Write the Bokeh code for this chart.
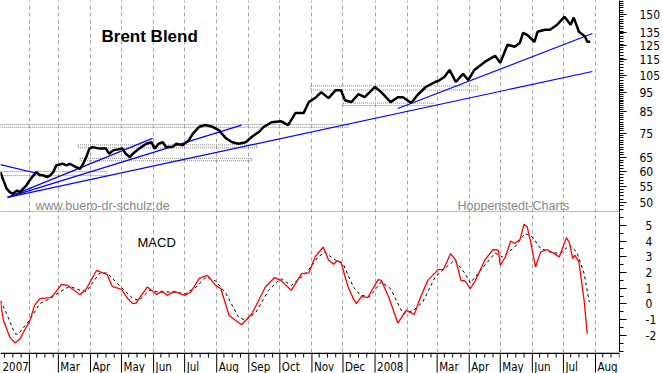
import pandas as pd
from bokeh.plotting import figure
from bokeh.models import Range1d, FixedTicker, PrintfTickFormatter, Label, ColumnDataSource
from bokeh.core.properties import value
from bokeh.layouts import column
from bokeh.embed import file_html
from bokeh.resources import INLINE

# ---------------- data ----------------
price_dates = [
    "2007-01-04", "2007-01-07", "2007-01-10", "2007-01-13", "2007-01-16", "2007-01-20", "2007-01-23", "2007-01-26", "2007-01-29",
    "2007-02-01", "2007-02-05", "2007-02-08", "2007-02-11", "2007-02-14", "2007-02-18", "2007-02-21", "2007-02-24", "2007-02-27",
    "2007-03-05", "2007-03-09", "2007-03-12", "2007-03-18", "2007-03-22", "2007-03-25", "2007-03-28", "2007-03-31",
    "2007-04-03", "2007-04-10", "2007-04-16", "2007-04-19", "2007-04-23",
    "2007-05-02", "2007-05-05", "2007-05-09", "2007-05-12", "2007-05-18", "2007-05-25", "2007-05-30",
    "2007-06-02", "2007-06-06", "2007-06-10", "2007-06-13", "2007-06-19", "2007-06-23", "2007-06-29",
    "2007-07-05", "2007-07-09", "2007-07-15", "2007-07-21", "2007-07-28",
    "2007-08-03", "2007-08-10", "2007-08-16", "2007-08-22", "2007-08-29",
    "2007-09-04", "2007-09-11", "2007-09-15", "2007-09-23",
    "2007-10-02", "2007-10-09", "2007-10-16", "2007-10-24", "2007-10-29",
    "2007-11-05", "2007-11-10", "2007-11-17", "2007-11-24", "2007-11-29",
    "2007-12-03", "2007-12-09", "2007-12-16", "2007-12-22",
    "2008-01-01", "2008-01-07", "2008-01-16", "2008-01-23", "2008-01-28",
    "2008-02-05", "2008-02-11", "2008-02-19", "2008-02-28",
    "2008-03-02", "2008-03-08", "2008-03-13", "2008-03-19", "2008-03-26", "2008-03-31",
    "2008-04-06", "2008-04-16", "2008-04-26",
    "2008-05-01", "2008-05-08", "2008-05-15", "2008-05-20", "2008-05-23", "2008-05-27",
    "2008-06-03", "2008-06-06", "2008-06-13", "2008-06-18", "2008-06-25",
    "2008-07-02", "2008-07-08", "2008-07-11", "2008-07-16", "2008-07-22", "2008-07-24", "2008-07-27",
]
price_values = [
    59.7, 56.8, 54.2, 53.1, 52.6, 53.6, 53.1, 54.2, 55.2,
    56.8, 58.6, 59.7, 58.6, 58.6, 58.0, 58.6, 59.7, 62.1,
    62.7, 62.1, 62.7, 61.5, 60.9, 62.7, 65.2, 68.5,
    69.1, 68.5, 68.5, 66.5, 67.8,
    68.5, 66.5, 65.2, 66.5, 68.5, 70.5, 71.1,
    68.5, 70.5, 71.1, 69.1, 69.1, 70.5, 69.8,
    71.9, 74.8, 77.8, 78.6, 77.8,
    76.3, 72.7, 71.1, 70.5, 71.1,
    73.4, 75.6, 77.6, 79.9,
    80.4, 78.6, 84.3, 84.3, 89.9,
    92.5, 95.3, 92.0, 96.4, 96.4,
    90.9, 89.9, 94.2, 92.5,
    98.2, 95.3, 89.9, 92.5, 92.5,
    89.4, 93.7, 98.2, 101.1,
    101.7, 104.1, 108.5, 101.1, 106.0, 102.3,
    108.5, 113.7, 117.8,
    113.1, 125.7, 124.2, 127.2, 134.8, 133.2,
    127.9, 135.6, 137.2, 137.2, 141.3,
    148.1, 141.3, 147.3, 135.6, 131.8, 127.9, 127.9,
]

macd_dates = [
    "2007-01-04", "2007-01-07", "2007-01-13", "2007-01-18", "2007-01-23", "2007-01-28",
    "2007-02-01", "2007-02-06", "2007-02-11", "2007-02-21", "2007-02-24",
    "2007-03-04", "2007-03-10", "2007-03-22", "2007-03-28",
    "2007-04-07", "2007-04-12", "2007-04-17", "2007-04-22",
    "2007-05-01", "2007-05-07", "2007-05-12", "2007-05-15", "2007-05-26",
    "2007-06-04", "2007-06-09", "2007-06-14", "2007-06-21",
    "2007-07-01", "2007-07-07", "2007-07-15", "2007-07-23", "2007-07-31",
    "2007-08-05", "2007-08-13", "2007-08-25",
    "2007-09-04", "2007-09-17", "2007-09-26",
    "2007-10-02", "2007-10-12", "2007-10-22", "2007-10-29",
    "2007-11-04", "2007-11-12", "2007-11-17", "2007-11-22", "2007-11-25", "2007-11-29",
    "2007-12-06", "2007-12-11", "2007-12-14", "2007-12-19", "2007-12-25", "2007-12-28",
    "2008-01-04", "2008-01-07", "2008-01-14", "2008-01-23", "2008-01-31",
    "2008-02-08", "2008-02-14", "2008-02-21",
    "2008-03-02", "2008-03-07", "2008-03-14", "2008-03-19", "2008-03-24", "2008-03-28",
    "2008-04-02", "2008-04-07", "2008-04-16", "2008-04-24", "2008-04-29",
    "2008-05-01", "2008-05-06", "2008-05-11", "2008-05-15", "2008-05-20", "2008-05-24", "2008-05-27", "2008-05-30",
    "2008-06-04", "2008-06-09", "2008-06-15", "2008-06-22", "2008-06-27",
    "2008-07-04", "2008-07-07", "2008-07-10", "2008-07-12", "2008-07-16", "2008-07-21", "2008-07-24",
]
macd_values = [
    0.12, -1.05, -2.10, -2.47, -2.20, -1.57,
    -1.15, -0.09, 0.34, 0.40, 0.55,
    1.25, 1.18, 0.59, 0.97,
    2.14, 1.99, 1.88, 1.12,
    0.93, 0.34, 0.02, 0.06, 1.08,
    0.61, 0.82, 0.55, 0.80,
    0.55, 0.76, 1.61, 1.82, 1.18,
    0.97, -0.73, -1.32,
    -0.62, 1.08, 1.68,
    1.50, 0.87, 1.93, 1.97,
    2.99, 3.62, 2.80, 2.52, 2.73, 2.67,
    1.08, 0.34, 0.02, 0.48, 0.40, 0.76,
    1.55, 1.50, 0.48, -1.21, -0.41,
    -0.66, 0.44, 1.50,
    2.18, 2.18, 3.20, 2.78, 1.50, 1.46,
    0.97, 1.50, 2.78, 3.46, 3.42,
    2.46, 2.99, 4.00, 3.84, 4.09, 5.07, 4.90, 4.05,
    2.35, 3.30, 3.46, 3.20, 2.99,
    4.22, 3.84, 2.88, 3.10, 2.67, 0.23, -1.89,
]

signal_dates = [
    "2007-01-04", "2007-01-10", "2007-01-18", "2007-01-21",
    "2007-02-01", "2007-02-11", "2007-02-21",
    "2007-03-02", "2007-03-12", "2007-03-22", "2007-03-28",
    "2007-04-10", "2007-04-17", "2007-04-29",
    "2007-05-12", "2007-05-18", "2007-05-28",
    "2007-06-06", "2007-06-19",
    "2007-07-02", "2007-07-12", "2007-07-22", "2007-07-31",
    "2007-08-10", "2007-08-22", "2007-08-29",
    "2007-09-08", "2007-09-20",
    "2007-10-02", "2007-10-12", "2007-10-26",
    "2007-11-07", "2007-11-14", "2007-11-17", "2007-11-24",
    "2007-12-01", "2007-12-11", "2007-12-18", "2007-12-27",
    "2008-01-07", "2008-01-16", "2008-01-28",
    "2008-02-07", "2008-02-16", "2008-02-28",
    "2008-03-10", "2008-03-18", "2008-03-28",
    "2008-04-02", "2008-04-12", "2008-04-26",
    "2008-05-03", "2008-05-15", "2008-05-25",
    "2008-06-01", "2008-06-09", "2008-06-18", "2008-06-28",
    "2008-07-07", "2008-07-14", "2008-07-21", "2008-07-26",
]
signal_values = [
    0.23, -0.62, -1.89, -1.93,
    -1.04, 0.02, 0.34,
    0.76, 1.12, 0.87, 0.80,
    1.97, 1.97, 1.18,
    0.34, 0.23, 0.87,
    0.76, 0.76,
    0.65, 1.08, 1.71, 1.46,
    0.65, -0.83, -1.04,
    -0.52, 0.87,
    1.61, 1.18, 1.93,
    2.99, 3.30, 3.10, 2.78,
    2.57, 1.08, 0.55, 0.48,
    1.40, 0.97, -0.62,
    -0.41, 0.12, 1.71,
    2.35, 2.78, 1.93,
    1.33, 2.14, 3.24,
    2.99, 3.62, 4.48,
    4.26, 3.52, 3.30, 3.20,
    3.73, 3.30, 1.93, 0.12,
]

# trend lines drawn on the price chart
trend_start_dates = ["2007-01-04", "2007-01-11", "2007-01-11", "2007-01-11", "2008-01-23"]
trend_start_prices = [62.4, 51.5, 51.5, 51.5, 86.6]
trend_end_dates = ["2007-02-21", "2007-05-31", "2007-08-25", "2008-07-29", "2008-07-29"]
trend_end_prices = [58.2, 72.7, 78.6, 107.5, 134.2]

# support / resistance bands
box_start = ["2007-01-04", "2007-03-20", "2007-03-22", "2007-01-04", "2007-10-31", "2007-12-01"]
box_end = ["2007-12-06", "2007-09-09", "2007-09-04", "2007-04-17", "2008-04-09", "2008-02-26"]
box_low = [77.6, 68.8, 63.8, 58.5, 96.5, 88.1]
box_high = [78.9, 70.0, 64.7, 59.9, 98.8, 89.4]

month_dates = [
    "2007-01-01", "2007-02-01", "2007-03-01", "2007-04-01", "2007-05-01", "2007-06-01",
    "2007-07-01", "2007-08-01", "2007-09-01", "2007-10-01", "2007-11-01", "2007-12-01",
    "2008-01-01", "2008-02-01", "2008-03-01", "2008-04-01", "2008-05-01", "2008-06-01",
    "2008-07-01", "2008-08-01",
]
month_labels = ["2007", "", "Mar", "Apr", "May", "Jun", "Jul", "Aug", "Sep", "Oct", "Nov", "Dec",
                "2008", "", "Mar", "Apr", "May", "Jun", "Jul", "Aug"]

price_ticks = [50, 55, 60, 65, 75, 85, 95, 105, 115, 125, 135, 150]
macd_ticks = [-2, -1, 0, 1, 2, 3, 4, 5]

# ---------------- helpers ----------------
ORIGIN = pd.Timestamp("2007-01-01")


def to_days(dates):
    return [(pd.Timestamp(d) - ORIGIN).days for d in dates]


month_days = to_days(month_dates)
week_days = [(pd.Timestamp(m) + pd.Timedelta(days=k) - ORIGIN).days
             for m in month_dates for k in (7, 15, 23)]

AXIS_FONT = "Liberation Sans Narrow, DejaVu Sans Condensed, Liberation Sans, sans-serif"
TEXT_FONT = "Liberation Sans, Arial, sans-serif"
GRID_COLOR = "#a8a8a8"

x_range = Range1d(3.08, 601.2)


def style_right_axis(ax, standoff):
    ax.major_tick_out = 7
    ax.minor_tick_out = 4
    ax.major_tick_in = 0
    ax.minor_tick_in = 0
    ax.major_label_standoff = standoff
    ax.major_label_text_font = AXIS_FONT
    ax.major_label_text_font_size = "12px"
    ax.major_label_text_color = "black"
    ax.axis_line_color = "black"


def style_frame(p):
    p.outline_line_color = None
    p.background_fill_color = "white"
    p.border_fill_color = "white"


# ---------------- price panel ----------------
p1 = figure(width=663, height=212, y_axis_type="log", y_axis_location="right",
            x_range=x_range, y_range=Range1d(47.15, 162.8),
            output_backend="svg", toolbar_location=None,
            min_border_left=0, min_border_right=41, min_border_top=0, min_border_bottom=0)
style_frame(p1)

p1.xaxis.ticker = FixedTicker(ticks=[])
p1.xaxis.major_tick_out = 0
p1.xaxis.minor_tick_out = 0
p1.xaxis.major_tick_in = 0
p1.xaxis.minor_tick_in = 0
p1.xaxis.major_label_standoff = 0
p1.xaxis.axis_line_width = 1.5
p1.xaxis.axis_line_color = "black"

p1.xgrid.ticker = FixedTicker(ticks=month_days)
p1.xgrid.grid_line_color = GRID_COLOR
p1.xgrid.grid_line_dash = "4 3"
p1.ygrid.visible = False

p1.yaxis.ticker = FixedTicker(ticks=price_ticks,
                              minor_ticks=list(range(47, 100)) + list(range(100, 163, 2)))
p1.yaxis.formatter = PrintfTickFormatter(format="%d")
style_right_axis(p1.yaxis[0], 13)

p1.quad(left=to_days(box_start), right=to_days(box_end), bottom=box_low, top=box_high,
        fill_color=None, line_color="#808080", line_width=1, line_dash="1 1")
p1.segment(x0=to_days(trend_start_dates), y0=trend_start_prices,
           x1=to_days(trend_end_dates), y1=trend_end_prices,
           line_color="#0000ff", line_width=1.2)
p1.line(to_days(price_dates), price_values, line_color="black", line_width=2.5)

p1.add_layout(Label(x=101, y=176, x_units="screen", y_units="screen", text="Brent Blend",
                    text_font=TEXT_FONT, text_font_size="17px", text_font_style="bold",
                    text_color="black", text_align="left", text_baseline="alphabetic"))
p1.add_layout(Label(x=35, y=7, x_units="screen", y_units="screen", text="www.buero-dr-schulz.de",
                    text_font=TEXT_FONT, text_font_size="12.5px", text_color="#888888",
                    text_align="left", text_baseline="alphabetic"))
p1.add_layout(Label(x=457, y=7, x_units="screen", y_units="screen", text="Hoppenstedt-Charts",
                    text_font=TEXT_FONT, text_font_size="12.5px", text_color="#888888",
                    text_align="left", text_baseline="alphabetic"))

# ---------------- MACD panel ----------------
p2 = figure(width=663, height=140, y_axis_location="right", x_axis_location=None,
            x_range=x_range, y_range=Range1d(-3.08, 5.81),
            output_backend="svg", toolbar_location=None,
            min_border_left=0, min_border_right=41, min_border_top=0, min_border_bottom=0)
style_frame(p2)

p2.xgrid.ticker = FixedTicker(ticks=month_days)
p2.xgrid.grid_line_color = GRID_COLOR
p2.xgrid.grid_line_dash = "4 3"
p2.ygrid.visible = False

p2.yaxis.ticker = FixedTicker(ticks=macd_ticks, minor_ticks=[i / 2 for i in range(-6, 12)])
p2.yaxis.formatter = PrintfTickFormatter(format="%d")
style_right_axis(p2.yaxis[0], 19)

p2.line(to_days(signal_dates), signal_values, line_color="black", line_width=1, line_dash="3 3")
p2.line(to_days(macd_dates), macd_values, line_color="#ff0000", line_width=1.3)

p2.add_layout(Label(x=137, y=110, x_units="screen", y_units="screen", text="MACD",
                    text_font=TEXT_FONT, text_font_size="13px", text_color="black",
                    text_align="left", text_baseline="alphabetic"))

# ---------------- time axis strip (a 21 px band; y measured in pixels from its bottom) ----------------
STRIP_H = 21
p3 = figure(width=663, height=STRIP_H, x_axis_location=None, y_axis_location=None,
            x_range=x_range, y_range=Range1d(0, STRIP_H),
            output_backend="svg", toolbar_location=None,
            min_border_left=0, min_border_right=41, min_border_top=0, min_border_bottom=0)
style_frame(p3)
p3.grid.visible = False

# axis rule along the top of the strip
p3.segment(x0=[x_range.start], x1=[x_range.end], y0=[STRIP_H - 0.75], y1=[STRIP_H - 0.75],
           line_color="black", line_width=1.5)
# long month ticks and short weekly ticks hanging from the rule
p3.segment(x0=month_days, x1=month_days, y0=[STRIP_H] * len(month_days), y1=[1] * len(month_days),
           line_color="black", line_width=1)
p3.segment(x0=week_days, x1=week_days, y0=[STRIP_H] * len(week_days), y1=[STRIP_H - 5] * len(week_days),
           line_color="black", line_width=1)

# month names sit just right of their tick; the partly hidden January is clamped to the left edge
lab_x = [max(d, x_range.start) for d, lab in zip(month_days, month_labels) if lab]
lab_src = ColumnDataSource(dict(
    x=lab_x,
    y=[7] * len(lab_x),
    text=[lab for lab in month_labels if lab],
))
p3.text(x="x", y="y", text="text", source=lab_src, x_offset=2,
        text_font=value(AXIS_FONT), text_font_size="11.5px", text_color="black",
        text_align="left", text_baseline="alphabetic")

layout = column(p1, p2, p3, spacing=0)
open("out.html", "w").write(file_html(layout, INLINE))
